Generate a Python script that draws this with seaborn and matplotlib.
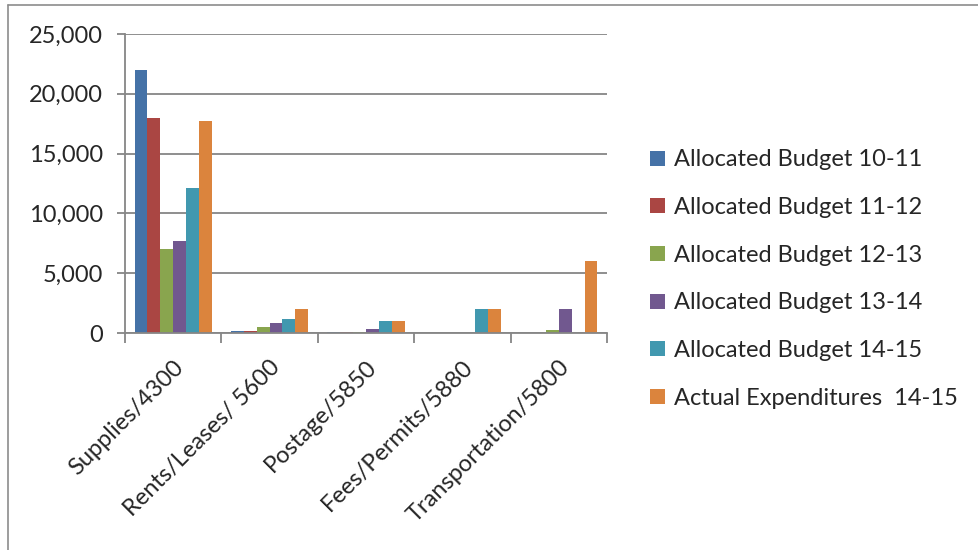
import matplotlib
matplotlib.use("Agg")
import matplotlib.pyplot as plt
from matplotlib.lines import Line2D
from matplotlib.ticker import FuncFormatter, FixedLocator
import seaborn as sns
import pandas as pd

categories = ["Supplies/4300", "Rents/Leases/ 5600", "Postage/5850", "Fees/Permits/5880", "Transportation/5800"]
series_names = ["Allocated Budget 10-11", "Allocated Budget 11-12", "Allocated Budget 12-13",
                "Allocated Budget 13-14", "Allocated Budget 14-15", "Actual Expenditures  14-15"]
budget_10_11 = [22000, 200, 100, 0, 0]
budget_11_12 = [18000, 200, 100, 0, 0]
budget_12_13 = [7050, 500, 100, 0, 250]
budget_13_14 = [7700, 800, 300, 0, 2000]
budget_14_15 = [12100, 1200, 1000, 2000, 0]
actual_14_15 = [17700, 2000, 1000, 2000, 6000]
colors = ["#4572A7", "#AA4643", "#89A54E", "#71588F", "#4198AF", "#DB843D"]

all_values = [budget_10_11, budget_11_12, budget_12_13, budget_13_14, budget_14_15, actual_14_15]
rows = []
for name, vals in zip(series_names, all_values):
    for cat, v in zip(categories, vals):
        rows.append({"Category": cat, "Series": name, "Value": v})
df = pd.DataFrame(rows)

sns.set_theme(style="white")
plt.rcParams['font.family'] = ['Lato', 'DejaVu Sans']

fig = plt.figure(figsize=(9.79, 5.5), dpi=100)
ax = fig.add_axes([125/979, 1-333/550, (607-125)/979, (333-34)/550])

sns.barplot(data=df, x="Category", y="Value", hue="Series", order=categories,
            hue_order=series_names, palette=colors, width=0.8, gap=0,
            saturation=1, linewidth=0, ax=ax, legend=True)

grid_c = "#868686"
ax.set_ylim(0, 25000)
ax.set_xlim(-0.5, len(categories) - 0.5)
ax.set_yticks(range(0, 25001, 5000))
ax.yaxis.set_major_formatter(FuncFormatter(lambda v, p: f"{int(v):,}"))
ax.grid(axis="y", color=grid_c, linewidth=1.3)
ax.set_axisbelow(True)
for s in ["top", "right"]:
    ax.spines[s].set_visible(False)
for s in ["left", "bottom"]:
    ax.spines[s].set_color(grid_c)
    ax.spines[s].set_linewidth(1.3)
ax.set_xlabel("")
ax.set_ylabel("")
ax.tick_params(axis="y", which="major", length=6, width=1.3, color=grid_c, labelsize=17, pad=10, left=True)
ax.tick_params(axis="x", which="major", length=0, labelsize=17, pad=17)
ax.xaxis.set_minor_locator(FixedLocator([i - 0.5 for i in range(len(categories) + 1)]))
ax.tick_params(axis="x", which="minor", length=7, width=1.3, color=grid_c, bottom=True)
for lab in ax.get_xticklabels():
    lab.set_rotation(45)
    lab.set_ha("right")
    lab.set_rotation_mode("anchor")

leg = ax.get_legend()
handles = leg.legend_handles
leg.remove()
fig.legend(handles, series_names, loc="upper left", bbox_to_anchor=(641/979, 1-140/550),
           frameon=False, fontsize=17, handlelength=0.6, handleheight=0.6,
           handletextpad=0.4, labelspacing=1.13, borderaxespad=0)

fig.add_artist(Line2D([8/979, 8/979], [0, 1-5/550], color="#8c8c8c", linewidth=1.2))
fig.add_artist(Line2D([8/979, 1], [1-5/550, 1-5/550], color="#8c8c8c", linewidth=1.2))

fig.savefig("out.png", dpi=100)
